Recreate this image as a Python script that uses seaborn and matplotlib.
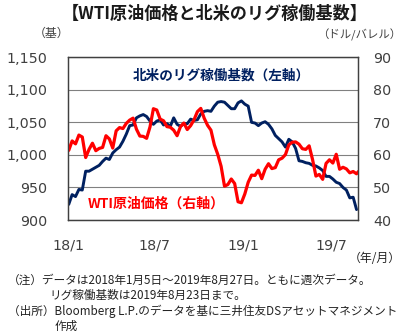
import matplotlib
matplotlib.use("Agg")
import matplotlib.pyplot as plt
import matplotlib.ticker as mticker
import numpy as np
import pandas as pd
import seaborn as sns

# Weekly series (Fridays) from 2018-01-05 to 2019-08-23
week_dates = pd.date_range("2018-01-05", "2019-08-23", freq="7D")

# North American rig count (left axis)
rig_count = [
    924, 939, 936, 947, 946, 975, 975, 978, 981, 984, 990, 995, 993,
    1003, 1008, 1012, 1021, 1032, 1045, 1046, 1057, 1060, 1062, 1059, 1052, 1047,
    1052, 1054, 1046, 1048, 1044, 1057, 1047, 1044, 1048, 1048, 1055, 1053, 1054,
    1063, 1067, 1068, 1067, 1075, 1081, 1082, 1081, 1076, 1071, 1071, 1080, 1083,
    1078, 1075, 1050, 1049, 1045, 1049, 1051, 1047, 1040, 1030, 1025, 1020, 1012,
    1024, 1020, 1010, 991, 990, 988, 987, 984, 983, 980, 976, 967, 967,
    963, 958, 956, 950, 946, 934, 935, 916,
]

# WTI crude price, USD/bbl (right axis); last point is 2019-08-27
wti_dates = list(week_dates) + [pd.Timestamp("2019-08-27")]
wti_price = [
    61.4, 64.3, 63.4, 66.1, 65.5, 59.2, 61.7, 63.6, 61.3, 62.0, 62.3, 65.9, 64.9,
    62.1, 67.4, 68.4, 68.1, 69.7, 70.7, 71.3, 67.9, 65.8, 65.7, 65.1, 68.6, 74.2,
    73.8, 71.0, 70.5, 68.7, 68.5, 67.6, 65.9, 68.7, 69.8, 67.8, 69.0, 70.8, 73.3,
    74.3, 71.3, 69.1, 67.6, 63.1, 60.2, 56.5, 50.4, 50.9, 52.6, 51.2, 45.6, 45.3,
    48.0, 51.6, 53.8, 53.7, 55.3, 52.7, 55.6, 57.3, 55.8, 56.1, 58.5, 59.0, 60.1,
    63.1, 63.9, 64.0, 63.3, 61.9, 61.7, 62.8, 58.6, 53.5, 54.0, 52.5, 57.4, 58.5,
    57.5, 60.2, 55.6, 56.2, 55.7, 54.5, 54.9, 54.2, 54.9,
]

left_ticks = [900, 950, 1000, 1050, 1100, 1150]
right_ticks = [40, 50, 60, 70, 80, 90]
x_tick_dates = ["2018-01-05", "2018-07-01", "2019-01-01", "2019-07-01"]
x_tick_labels = ["18/1", "18/7", "19/1", "19/7"]

title = "【WTI原油価格と北米のリグ稼働基数】"
rig_label = "北米のリグ稼働基数（左軸）"
wti_label = "WTI原油価格（右軸）"
notes = [
    ("（注）データは2018年1月5日～2019年8月27日。ともに週次データ。", 8),
    ("リグ稼働基数は2019年8月23日まで。", 49),
    ("（出所）Bloomberg L.P.のデータを基に三井住友DSアセットマネジメント", 8),
    ("作成", 55),
]

rig_df = pd.DataFrame({"date": week_dates, "rigs": rig_count})
wti_df = pd.DataFrame({"date": wti_dates, "wti": wti_price})

sns.set_theme(style="white")
plt.rcParams["font.family"] = ["DejaVu Sans", "Noto Sans CJK JP"]
CJK = ["Noto Sans CJK JP", "DejaVu Sans"]

NAVY = "#002060"
RED = "#FF0000"
TICK_C = "#404040"

W, H = 406, 336
fig = plt.figure(figsize=(W / 100, H / 100), dpi=100)
ax = fig.add_axes([68.5 / W, 116 / H, (358 - 68.5) / W, (220 - 57.3) / H])

sns.lineplot(data=rig_df, x="date", y="rigs", ax=ax, color=NAVY, lw=2.1)
ax2 = ax.twinx()
sns.lineplot(data=wti_df, x="date", y="wti", ax=ax2, color=RED, lw=2.3)

for a in (ax, ax2):
    a.set_xlabel("")
    a.set_ylabel("")
    for s in a.spines.values():
        s.set_color("#404040")
        s.set_linewidth(0.9)

ax.set_xlim(pd.Timestamp("2018-01-04 12:00"), pd.Timestamp("2019-08-26"))
ax.set_ylim(900, 1150)
ax.set_yticks(left_ticks)
ax.yaxis.set_major_formatter(mticker.FuncFormatter(lambda v, p: f"{int(v):,}"))
ax2.set_ylim(40, 90)
ax2.set_yticks(right_ticks)

ax.yaxis.grid(True, color="#808080", lw=0.8)
ax.set_axisbelow(True)

ax.set_xticks(pd.to_datetime(x_tick_dates))
ax.set_xticklabels(x_tick_labels)
ax.tick_params(axis="x", direction="in", length=4, width=0.8, color="#404040",
               labelsize=10.3, labelcolor=TICK_C, pad=13, top=False)
ax.tick_params(axis="y", length=0, labelsize=10.3, labelcolor=TICK_C, pad=15)
ax2.tick_params(axis="y", length=0, labelsize=10.3, labelcolor=TICK_C, pad=11)

# in-plot series labels
ax.text(133 / W, 1 - 76 / H, rig_label, transform=fig.transFigure, ha="left",
        va="center", color=NAVY, fontsize=9.8, fontweight="bold", family=CJK)
ax.text(88 / W, 1 - 204 / H, wti_label, transform=fig.transFigure, ha="left",
        va="center", color=RED, fontsize=10, fontweight="bold", family=CJK)

fig.text(215 / W, 1 - 14 / H, title, ha="center", va="center", fontsize=12.3,
         fontweight="bold", color="#1a1a1a", family=CJK)
fig.text(52 / W, 1 - 33 / H, "（基）", ha="center", va="center", fontsize=8.6,
         color=TICK_C, family=CJK)
fig.text(401 / W, 1 - 35 / H, "（ドル/バレル）", ha="right", va="center",
         fontsize=8.2, color=TICK_C, family=CJK)
fig.text(401 / W, 1 - 259 / H, "（年/月）", ha="right", va="center",
         fontsize=8.6, color="#222222", family=CJK)

note_y = [280, 295, 311, 326]
for (txt, x0), y0 in zip(notes, note_y):
    fig.text(x0 / W, 1 - y0 / H, txt, ha="left", va="center", fontsize=8.4,
             color="#222222", family=CJK)

fig.savefig("out.png", dpi=100)
